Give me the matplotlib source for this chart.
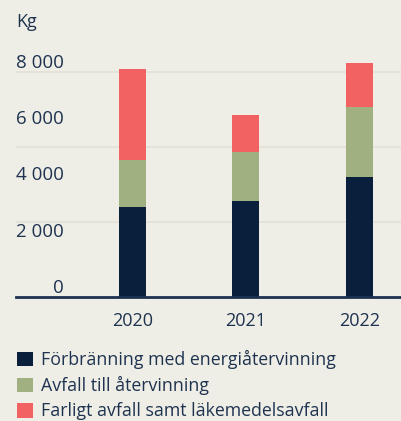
import matplotlib.pyplot as plt
from matplotlib.patches import Patch
import matplotlib.transforms as mtransforms

# data
years = ['2020', '2021', '2022']
forbranning = [3200, 3420, 4270]
atervinning = [1670, 1750, 2490]
farligt = [3240, 1310, 1570]
series_labels = ['Förbränning med energiåtervinning',
                 'Avfall till återvinning',
                 'Farligt avfall samt läkemedelsavfall']
y_ticks = [0, 2000, 4000, 6000, 8000]
y_tick_labels = ['0', '2 000', '4 000', '6 000', '8 000']
grid_values = [8000 / 3, 16000 / 3, 8000]

colors = ['#0a1f3c', '#a0b080', '#f26262']
bg = '#eeeee6'
text_col = '#1f3350'

plt.rcParams['font.family'] = ['Open Sans', 'DejaVu Sans']

W, H = 402, 421
fig = plt.figure(figsize=(W / 100, H / 100), dpi=100, facecolor=bg)

# axes: 0 at y=297 px, 2000 per 56.2 px
y0_px, ytop_px = 297, 45
ax = fig.add_axes([16 / W, (H - y0_px) / H, (W - 16) / W, (y0_px - ytop_px) / H])
ax.set_facecolor(bg)
ax.set_ylim(0, (y0_px - ytop_px) / 56.2 * 2000)
ax.set_xlim(-1.026, -1.026 + (W - 16) / 113.5)

x = range(len(years))
w = 0.238
bottom2 = [a + b for a, b in zip(forbranning, atervinning)]
ax.bar(x, forbranning, w, color=colors[0], zorder=3)
ax.bar(x, atervinning, w, bottom=forbranning, color=colors[1], zorder=3)
ax.bar(x, farligt, w, bottom=bottom2, color=colors[2], zorder=3)

for g in grid_values:
    ax.axhline(g, color='#e4e0d6', lw=1.2, zorder=1)

for s in ['top', 'right', 'left']:
    ax.spines[s].set_visible(False)
ax.spines['bottom'].set_color('#1c3050')
ax.spines['bottom'].set_linewidth(2)
ax.spines['bottom'].set_zorder(4)

ax.set_yticks([])
ax.set_xticks(list(x))
ax.set_xticklabels(years, fontsize=13, color=text_col)
ax.tick_params(axis='x', length=0, pad=11)

# y labels sit just above their value
trans = mtransforms.blended_transform_factory(fig.transFigure, ax.transData)
trans = mtransforms.offset_copy(trans, fig=fig, y=3, units='points')
for v, lab in zip(y_ticks, y_tick_labels):
    ax.text(64 / W, v, lab, transform=trans, ha='right', va='baseline',
            fontsize=13.5, color=text_col)

fig.text(16 / W, (H - 27) / H, 'Kg', ha='left', va='baseline',
         fontsize=13, color=text_col)

handles = [Patch(facecolor=c, edgecolor='none') for c in colors]
fig.legend(handles, series_labels, loc='upper left',
           bbox_to_anchor=(17 / W, (H - 350) / H), frameon=False,
           fontsize=12.8, labelcolor=text_col, handlelength=0.9,
           handleheight=0.9, handletextpad=0.45, labelspacing=0.4,
           borderpad=0, borderaxespad=0)

fig.savefig('out.png', dpi=100, facecolor=bg)
